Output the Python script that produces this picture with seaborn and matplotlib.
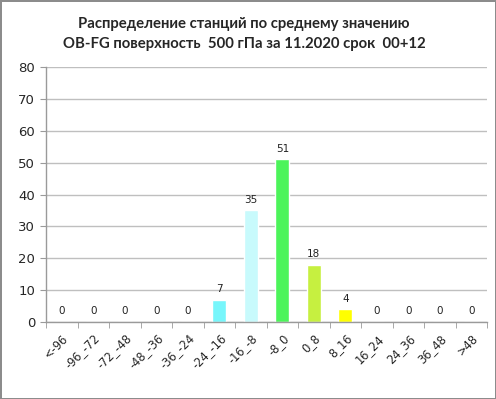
import matplotlib
matplotlib.use("Agg")
import matplotlib.pyplot as plt
import seaborn as sns
import pandas as pd

# Données
intervalles = ["<-96", "-96_-72", "-72_-48", "-48_-36", "-36_-24", "-24_-16", "-16_-8",
               "-8_0", "0_8", "8_16", "16_24", "24_36", "36_48", ">48"]
stations = [0, 0, 0, 0, 0, 7, 35, 51, 18, 4, 0, 0, 0, 0]
couleurs = ["#FFFFFF", "#FFFFFF", "#FFFFFF", "#FFFFFF", "#FFFFFF", "#77F6FB", "#C8FAFC",
            "#4CF45A", "#C6F040", "#FFFF00", "#FFFFFF", "#FFFFFF", "#FFFFFF", "#FFFFFF"]
titre = "Распределение станций по среднему значению\nOB-FG поверхность  500 гПа за 11.2020 срок  00+12"

df = pd.DataFrame({"intervalle": intervalles, "n": stations})

sns.set_style("white")
plt.rcParams['font.family'] = ['DejaVu Sans']

fig = plt.figure(figsize=(4.96, 3.99), dpi=100, edgecolor="#8C8C8C", linewidth=2)
ax = fig.add_axes([0.093, 0.193, 0.889, 0.639])

sns.barplot(data=df, x="intervalle", y="n", hue="intervalle",
            palette=dict(zip(intervalles, couleurs)), width=0.44,
            legend=False, ax=ax, saturation=1)

for c in ax.containers:
    ax.bar_label(c, fontsize=7.5, padding=4, color="#222222")

ax.set_ylim(0, 80)
ax.set_yticks(range(0, 81, 10))
ax.set_xlim(-0.5, len(intervalles) - 0.5)
ax.set_xlabel("")
ax.set_ylabel("")
ax.yaxis.grid(True, color="#BFBFBF", linewidth=1)
ax.set_axisbelow(True)
for s in ["top", "right"]:
    ax.spines[s].set_visible(False)
for s in ["left", "bottom"]:
    ax.spines[s].set_color("#9A9A9A")
    ax.spines[s].set_linewidth(1)

ax.tick_params(axis="y", labelsize=9.5, length=4, color="#9A9A9A", left=True, pad=4)
ax.set_xticks(range(len(intervalles)))
ax.set_xticklabels(intervalles, rotation=45, ha="right", rotation_mode="anchor", fontsize=8.3)
ax.tick_params(axis="x", length=0, pad=7)
ax.set_xticks([i + 0.5 for i in range(-1, len(intervalles))], minor=True)
ax.tick_params(axis="x", which="minor", bottom=True, length=4, color="#9A9A9A")

fig.text(0.492, 0.915, titre, ha="center", va="center", fontsize=10.7,
         fontweight="bold", family=["Lato", "DejaVu Sans"], linespacing=1.6)

plt.savefig("out.png", dpi=100, edgecolor=fig.get_edgecolor())
